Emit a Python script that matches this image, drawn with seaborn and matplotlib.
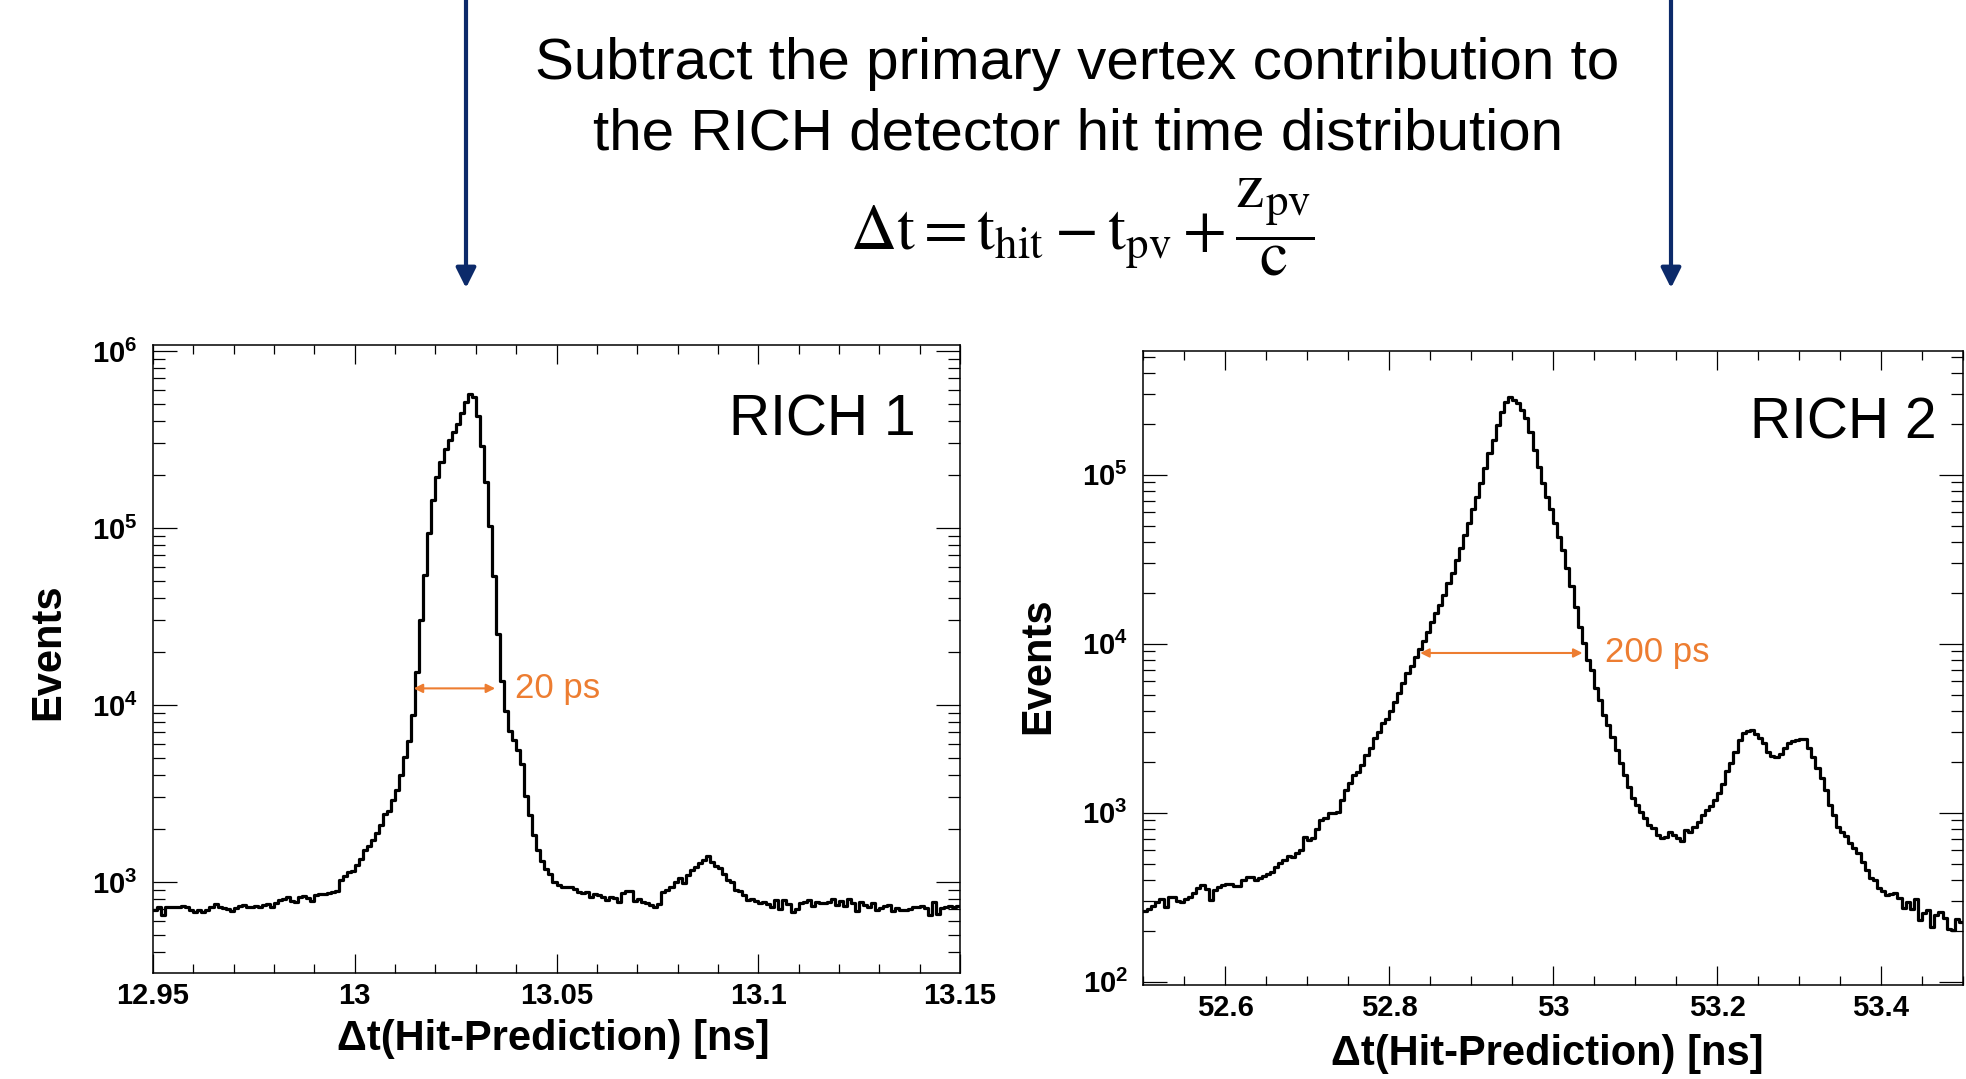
import numpy as np
import pandas as pd
import matplotlib
matplotlib.use("Agg")
import matplotlib.pyplot as plt
import seaborn as sns
from matplotlib.ticker import FixedLocator, FixedFormatter, MultipleLocator, LogLocator, NullFormatter
from matplotlib.patches import FancyArrowPatch

# ---------------- data ----------------
rich1_range = (12.95, 13.15)
rich1_nbins = 200
rich1_counts = [
    695, 725, 652, 718, 725, 718, 725, 730, 718, 695, 672, 690, 680, 695, 718, 750, 725, 710, 700, 685,
    712, 730, 737, 718, 725, 730, 725, 737, 750, 718, 757, 791, 805, 820, 784, 774, 827, 834, 809, 784,
    841, 852, 856, 863, 882, 893,
    1020, 1075, 1135, 1157, 1248, 1346, 1513, 1587, 1727, 1895, 2096, 2413, 2518, 2906, 3311, 4024,
    5087, 6264, 8785, 15360, 30200, 54200, 93700, 144000, 194000, 236000, 279000, 314000, 349000,
    387000, 447000, 515000, 572000, 550000, 430000, 291000, 182000, 103000, 53500, 25200, 13700,
    9250, 7130, 6340, 5570, 4640, 3060, 2390, 1840, 1520, 1310, 1180, 1110,
    1000, 962, 940, 932, 940, 915, 882, 870, 882, 820, 856, 845, 827, 791, 827, 809, 774, 863, 893, 886,
    784, 798, 774, 764, 745, 726, 751, 882, 901, 932, 1005, 1048, 984, 1096, 1169, 1222, 1280, 1335,
    1403, 1303, 1231, 1205, 1105, 1030, 1005, 901, 886, 845, 791, 802, 784, 764, 774, 751, 726, 791,
    700, 791, 751, 672, 700, 758, 774, 791, 731, 774, 764, 758, 774, 805, 737, 784, 731, 798, 758, 686,
    774, 741, 719, 758, 695, 710, 731, 737, 686, 710, 695, 690, 707, 719, 726, 731, 712, 651, 774, 657,
    710, 719, 731, 720, 728,
]

rich2_range = (52.5, 53.5)
rich2_nbins = 200
rich2_counts = [
    263, 270, 280, 294, 307, 278, 318, 318, 301, 297, 307, 315, 336, 357, 373, 352, 304, 349, 365, 373,
    378, 378, 370, 368, 400, 418, 414, 400, 409, 424, 434, 448, 480, 506, 524, 554, 545, 575, 602, 721,
    689, 705, 800, 906, 927, 1000, 1000, 1014, 1189, 1362, 1492, 1671,
    1750, 1920, 2195, 2430, 2754, 3015, 3380, 3580, 4020, 4540, 5080, 5830, 6680, 7400, 8290, 9280,
    10400, 11780, 13350, 15130, 16940, 19410, 22760, 26100, 31260, 36660, 43970, 52000, 62400, 74100,
    88900, 109200, 133900, 160400, 196800, 236000, 270400, 287000,
    276700, 264300, 241500, 215800, 179500, 140000, 110600, 88900, 74100, 62400, 52000, 42950, 35850,
    28000, 22000, 16500, 12610, 10050, 8010, 6990, 5450, 4640, 3790, 3300, 2818, 2350, 1960, 1671,
    1425, 1216, 1110, 1014, 927, 846, 809, 740, 705, 721, 772, 738, 705, 683, 791, 772, 827, 880,
    968, 1038, 1100, 1190, 1300, 1480, 1760, 1970, 2270, 2700, 2960, 3050, 3070, 2930, 2750, 2572,
    2296, 2165, 2128, 2225, 2404, 2595, 2655, 2692, 2718, 2718, 2404, 2145, 1832, 1597, 1362, 1110,
    968, 827, 772, 728, 659, 615, 575, 513, 458, 409, 400, 357, 345, 326, 330, 333, 311, 272, 297,
    268, 307, 232, 254, 266, 211, 248, 259, 237, 204, 202, 234, 226,
]

rich1_xticks = [12.95, 13.0, 13.05, 13.1, 13.15]
rich1_xticklabels = ["12.95", "13", "13.05", "13.1", "13.15"]
rich1_yticks = [1e3, 1e4, 1e5, 1e6]
rich2_xticks = [52.6, 52.8, 53.0, 53.2, 53.4]
rich2_xticklabels = ["52.6", "52.8", "53", "53.2", "53.4"]
rich2_yticks = [1e2, 1e3, 1e4, 1e5]

rich1_fwhm = (13.0146, 13.0348, 12400)
rich2_fwhm = (52.838, 53.036, 8810)

title_lines = ["Subtract the primary vertex contribution to",
               "the RICH detector hit time distribution"]
formula = r"$\mathrm{\Delta t = t_{hit} - t_{pv} + \dfrac{z_{pv}}{c}}$"

# ---------------- style ----------------
sns.set_style("white")
plt.rcParams["font.family"] = ["Liberation Sans", "DejaVu Sans"]
plt.rcParams["mathtext.fontset"] = "custom"
plt.rcParams["mathtext.rm"] = "Liberation Sans:bold"
plt.rcParams["mathtext.bf"] = "Liberation Sans:bold"
plt.rcParams["mathtext.it"] = "Liberation Sans:bold"
plt.rcParams["text.color"] = "black"
plt.rcParams["axes.labelcolor"] = "black"
plt.rcParams["xtick.color"] = "black"
plt.rcParams["ytick.color"] = "black"

ORANGE = "#ED7D31"
NAVY = "#0c2a6a"

W, H = 1966, 1079
fig = plt.figure(figsize=(W / 100, H / 100), dpi=100)


def px_axes(l, t, r, b):
    return fig.add_axes([l / W, 1 - b / H, (r - l) / W, (b - t) / H])


def draw_panel(ax, rng, nbins, counts, xlim, ylim, xticks, xtlabels, xminor, yticks):
    width = (rng[1] - rng[0]) / nbins
    df = pd.DataFrame({"t": rng[0] + width * (np.arange(nbins) + 0.5),
                       "n": np.asarray(counts, dtype=float)})
    sns.histplot(data=df, x="t", weights="n", bins=nbins, binrange=rng, element="step",
                 fill=False, color="black", linewidth=2.3, ax=ax)
    ax.set_yscale("log")
    ax.set_xlim(*xlim)
    ax.set_ylim(*ylim)
    ax.xaxis.set_major_locator(FixedLocator(xticks))
    ax.xaxis.set_major_formatter(FixedFormatter(xtlabels))
    ax.xaxis.set_minor_locator(MultipleLocator(xminor))
    ax.yaxis.set_major_locator(FixedLocator(yticks))
    ax.yaxis.set_major_formatter(FixedFormatter(
        [r"$10^{%d}$" % int(round(np.log10(v))) for v in yticks]))
    ax.yaxis.set_minor_locator(LogLocator(base=10, subs=np.arange(2, 10), numticks=20))
    ax.yaxis.set_minor_formatter(NullFormatter())
    ax.tick_params(axis="x", which="major", direction="in", top=True, bottom=True,
                   length=13.5, width=0.9, pad=6.5, labelsize=21, colors="black")
    ax.tick_params(axis="x", which="minor", direction="in", top=True, bottom=True,
                   length=6.7, width=0.9)
    ax.tick_params(axis="y", which="major", direction="in", left=True, right=True,
                   length=17.3, width=0.9, pad=11, labelsize=21, colors="black")
    ax.tick_params(axis="y", which="minor", direction="in", left=True, right=True,
                   length=8.6, width=0.9)
    for lab in ax.get_xticklabels():
        lab.set_fontweight("bold")
    for sp in ax.spines.values():
        sp.set_visible(True)
        sp.set_color("black")
        sp.set_linewidth(1.1)
    ax.set_xlabel("\u0394t(Hit-Prediction) [ns]", fontsize=30, fontweight="bold")
    ax.set_ylabel("Events", fontsize=30, fontweight="bold")
    ax.xaxis.label.set_va("center")
    ax.yaxis.label.set_va("center")


ax1 = px_axes(153, 345, 960, 972.7)
draw_panel(ax1, rich1_range, rich1_nbins, rich1_counts, (12.95, 13.15), (307, 1.08e6),
           rich1_xticks, rich1_xticklabels, 0.01, rich1_yticks)
ax1.xaxis.set_label_coords(0.496, -0.106)
ax1.yaxis.set_label_coords(-0.130, 0.511)
ax1.text(0.9455, 0.880, "RICH 1", transform=ax1.transAxes, ha="right", va="center",
         fontsize=41)
ax1.annotate("", xy=(rich1_fwhm[1], rich1_fwhm[2]), xytext=(rich1_fwhm[0], rich1_fwhm[2]),
             arrowprops=dict(arrowstyle="<|-|>", color=ORANGE, lw=1.5, mutation_scale=13,
                             shrinkA=0, shrinkB=0))
ax1.text(13.0397, rich1_fwhm[2], "20 ps", color=ORANGE, fontsize=25, ha="left", va="center")

ax2 = px_axes(1143, 350.7, 1963, 985)
draw_panel(ax2, rich2_range, rich2_nbins, rich2_counts, (52.5, 53.5), (95.5, 5.42e5),
           rich2_xticks, rich2_xticklabels, 0.05, rich2_yticks)
ax2.xaxis.set_label_coords(0.493, -0.109)
ax2.yaxis.set_label_coords(-0.128, 0.504)
ax2.text(0.968, 0.886, "RICH 2", transform=ax2.transAxes, ha="right", va="center",
         fontsize=41)
ax2.annotate("", xy=(rich2_fwhm[1], rich2_fwhm[2]), xytext=(rich2_fwhm[0], rich2_fwhm[2]),
             arrowprops=dict(arrowstyle="<|-|>", color=ORANGE, lw=1.5, mutation_scale=13,
                             shrinkA=0, shrinkB=0))
ax2.text(53.063, rich2_fwhm[2], "200 ps", color=ORANGE, fontsize=25, ha="left", va="center")

# ---------------- header text and arrows ----------------
fig.text(1077 / W, 1 - 79 / H, title_lines[0], ha="center", va="baseline", fontsize=42)
fig.text(1078 / W, 1 - 150 / H, title_lines[1], ha="center", va="baseline", fontsize=42)
fig.text(1082 / W, 1 - 250 / H, formula, ha="center", va="baseline", fontsize=46,
         math_fontfamily="stix")

for xp in (466, 1671):
    arr = FancyArrowPatch((xp / W, 1.0), (xp / W, 1 - 288 / H), transform=fig.transFigure,
                          arrowstyle="-|>", mutation_scale=30, color=NAVY, lw=3.0,
                          shrinkA=0, shrinkB=0)
    fig.add_artist(arr)

fig.savefig("out.png", dpi=100)
